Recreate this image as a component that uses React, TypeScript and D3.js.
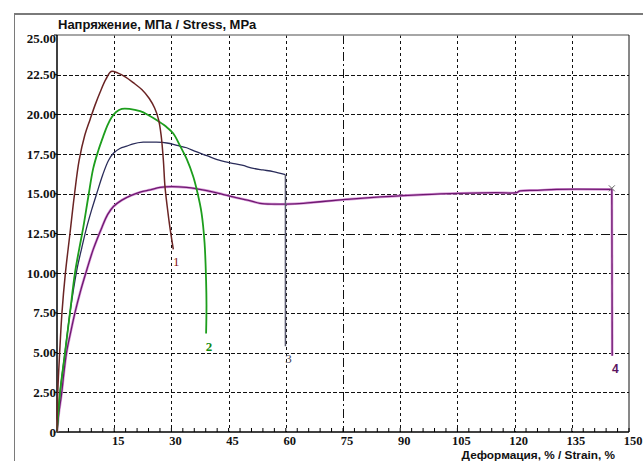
import React from "react";
import * as d3 from "d3";

const xTicks = [15, 30, 45, 60, 75, 90, 105, 120, 135, 150];
const yTicks = [0, 2.5, 5, 7.5, 10, 12.5, 15, 17.5, 20, 22.5, 25];
const yTickLabels = ["0", "2.50", "5.00", "7.50", "10.00", "12.50", "15.00", "17.50", "20.00", "22.50", "25.00"];
const title = "Напряжение, МПа / Stress, MPa";
const xTitle = "Деформация, % / Strain, %";

const curve1: [number, number][] = [
  [0, 0], [0.2, 2.5], [0.7, 5], [1.3, 7.5], [2.2, 10], [3.4, 12.5], [4.6, 15], [5.8, 17.1],
  [7.3, 18.7], [8.7, 19.7], [10, 20.6], [11.3, 21.4], [12.8, 22.2], [14.2, 22.7], [16, 22.6],
  [18, 22.35], [20, 22.0], [22.3, 21.55], [24.2, 21.0], [25.6, 20.4], [26.6, 19.7], [27.3, 18.7],
  [27.9, 17.1], [28.3, 15.5], [28.9, 14.2], [29.6, 12.9], [30.5, 11.5],
];

const curve2: [number, number][] = [
  [0, 0], [0.8, 2.5], [2.1, 5], [3.4, 7.5], [4.7, 10], [5.8, 11.5], [6.9, 12.9], [8.2, 14.8],
  [9.5, 16.6], [10.8, 17.7], [12.1, 18.6], [13.2, 19.3], [14.3, 19.8], [15.5, 20.15], [17, 20.35],
  [19, 20.35], [21.8, 20.2], [24, 19.95], [26.1, 19.65], [28.5, 19.25], [30.5, 18.8], [32.3, 18.0],
  [34, 17.2], [35.7, 16.1], [36.9, 15], [37.9, 13.8], [38.7, 11.9], [39.1, 9.5], [39.2, 8.0], [39.1, 6.2],
];

const curve3: [number, number][] = [
  [0, 0], [0.8, 2.5], [2.1, 5], [3.4, 7.5], [5.2, 10.2], [6.5, 11.6], [7.8, 12.9], [9.1, 14],
  [10.4, 15], [12, 16.2], [13.5, 17.1], [14.8, 17.55], [16.5, 17.85], [18.3, 18.0], [20, 18.15],
  [22.6, 18.25], [26, 18.25], [28.8, 18.2], [31.5, 18.05], [34, 17.9], [36.5, 17.65], [39.3, 17.4],
  [42, 17.15], [45.4, 16.95], [48.5, 16.8], [51.5, 16.6], [54, 16.5], [56.7, 16.4], [59.9, 16.2],
];
const drop3: [number, number][] = [[59.9, 16.2], [59.9, 5.4]];

const curve4: [number, number][] = [
  [0, 0], [0.5, 1.2], [1.2, 2.4], [1.8, 3.7], [2.5, 5], [3.6, 6.3], [4.7, 7.5], [6.2, 8.9],
  [7.8, 10.2], [9.5, 11.5], [11.8, 12.9], [13.3, 13.7], [14.8, 14.2], [17, 14.6], [19.5, 14.9],
  [21.8, 15.1], [24.5, 15.25], [27, 15.4], [30, 15.45], [34, 15.4], [37, 15.3], [39.3, 15.2],
  [43, 15.0], [46.2, 14.8], [50, 14.6], [53.2, 14.4], [57, 14.35], [60.2, 14.35], [64.6, 14.4],
  [69, 14.5], [76, 14.65], [84.7, 14.8], [96, 14.95], [105.7, 15.03], [115, 15.07], [120.5, 15.07],
  [121.4, 15.18], [126, 15.22], [131, 15.28], [145.5, 15.28],
];
const drop4: [number, number][] = [[145.5, 15.28], [145.6, 4.8]];

const W = 643;
const H = 461;
const L = 57, R = 629, T = 35, B = 432;

export default function App() {
  const x = d3.scaleLinear().domain([0, 150]).range([L, R]);
  const y = d3.scaleLinear().domain([0, 25]).range([B, T]);
  const smooth = d3.line<[number, number]>().x(d => x(d[0])).y(d => y(d[1])).curve(d3.curveCatmullRom.alpha(0.5));
  const lin = d3.line<[number, number]>().x(d => x(d[0])).y(d => y(d[1]));
  const minor = d3.range(0, 151, 3);

  const labelAt = (p: [number, number]) => ({ x: x(p[0]) + 3, y: y(p[1]) + 17 });
  const l1 = labelAt(curve1[curve1.length - 1]);
  const l2 = labelAt(curve2[curve2.length - 1]);
  const l3 = labelAt(drop3[drop3.length - 1]);
  const l4 = labelAt(drop4[drop4.length - 1]);
  const xe = curve4[curve4.length - 1];
  const px = (v: number) => Math.round(v) + 0.5;

  return (
    <svg width={W} height={H} style={{ position: "absolute", left: 0, top: 0, background: "#fff" }}>
      <rect x={0} y={0} width={W} height={H} fill="#fff" />
      {/* outer frame */}
      <line x1={14} y1={14} x2={W} y2={14} stroke="#7a7a7a" strokeWidth={2} />
      <line x1={14.5} y1={14} x2={14.5} y2={H} stroke="#7a7a7a" strokeWidth={1} />
      {/* grid */}
      {yTicks.filter(v => v > 0 && v < 25).map(v => (
        <line key={"gy" + v} x1={L} x2={R} y1={px(y(v))} y2={px(y(v))} stroke="#111"
          strokeWidth={1} strokeDasharray={v === 12.5 ? "9,3,2,3" : "4,2"} />
      ))}
      {xTicks.filter(v => v < 150).map(v => (
        <line key={"gx" + v} x1={px(x(v))} x2={px(x(v))} y1={T} y2={B} stroke="#111"
          strokeWidth={1} strokeDasharray={v === 75 ? "9,3,2,3" : "3,3"} />
      ))}
      {/* plot frame */}
      <line x1={L} x2={R} y1={T} y2={T} stroke="#888" strokeWidth={1.5} />
      <line x1={R} x2={R} y1={T} y2={B} stroke="#111" strokeWidth={1} />
      <line x1={L} x2={L} y1={T} y2={B} stroke="#000" strokeWidth={1.5} />
      <line x1={L} x2={R} y1={B} y2={B} stroke="#000" strokeWidth={1.5} />
      {minor.map(v => (
        <line key={"m" + v} x1={x(v)} x2={x(v)} y1={B} y2={B - 4} stroke="#000" strokeWidth={1} />
      ))}
      {yTicks.map(v => (
        <line key={"yt" + v} x1={L - 3} x2={L} y1={y(v)} y2={y(v)} stroke="#000" strokeWidth={1} />
      ))}
      {/* y labels */}
      {yTicks.map((v, i) => (
        <text key={"yl" + v} x={L - 1} y={y(v) + (v === 25 ? 3 : 0)} dy="0.35em" textAnchor="end"
          fontFamily="Liberation Serif, serif" fontWeight="bold" fontSize={13} fill="#111">{yTickLabels[i]}</text>
      ))}
      {/* x labels */}
      {xTicks.map(v => (
        <text key={"xl" + v} x={x(v) + 4} y={444.5} textAnchor="middle"
          fontFamily="Liberation Serif, serif" fontWeight="bold" fontSize={12.5} fill="#111">{v}</text>
      ))}
      {/* titles */}
      <text x={58} y={29} fontFamily="Liberation Sans, Arial, sans-serif" fontWeight="bold" fontSize={13} fill="#111">{title}</text>
      <text x={615} y={458.5} textAnchor="end" fontFamily="Liberation Sans, Arial, sans-serif" fontWeight="bold" fontSize={11.8} fill="#111">{xTitle}</text>
      {/* curves */}
      <path d={smooth(curve4) || ""} fill="none" stroke="#d99ad9" strokeWidth={2.6} />
      <path d={lin(drop4) || ""} fill="none" stroke="#d99ad9" strokeWidth={2.6} />
      <path d={smooth(curve4) || ""} fill="none" stroke="#6e1870" strokeWidth={1.3} />
      <path d={lin(drop4) || ""} fill="none" stroke="#6e1870" strokeWidth={1.3} />
      <path d={smooth(curve3) || ""} fill="none" stroke="#2a2c5a" strokeWidth={1.3} />
      <path d={lin(drop3) || ""} fill="none" stroke="#5c5c72" strokeWidth={1.5} />
      <path d={smooth(curve2) || ""} fill="none" stroke="#1d9e1d" strokeWidth={1.8} />
      <path d={smooth(curve1) || ""} fill="none" stroke="#6a2424" strokeWidth={1.5} />
      {/* end marker */}
      <g stroke="#666" strokeWidth={1}>
        <line x1={x(xe[0]) - 3} x2={x(xe[0]) + 3} y1={y(xe[1]) - 4} y2={y(xe[1]) + 2} />
        <line x1={x(xe[0]) + 3} x2={x(xe[0]) - 3} y1={y(xe[1]) - 4} y2={y(xe[1]) + 2} />
      </g>
      {/* curve labels */}
      <text x={l1.x} y={l1.y} textAnchor="middle" fontFamily="Liberation Serif, serif" fontSize={13} fill="#8a2020">1</text>
      <text x={l2.x} y={l2.y} textAnchor="middle" fontFamily="Liberation Serif, serif" fontWeight="bold" fontSize={13} fill="#118a11">2</text>
      <text x={l3.x} y={l3.y} textAnchor="middle" fontFamily="Liberation Serif, serif" fontSize={13} fill="#44445e">3</text>
      <text x={l4.x} y={l4.y} textAnchor="middle" fontFamily="Liberation Sans, sans-serif" fontWeight="bold" fontSize={12} fill="#5a1460">4</text>
    </svg>
  );
}
